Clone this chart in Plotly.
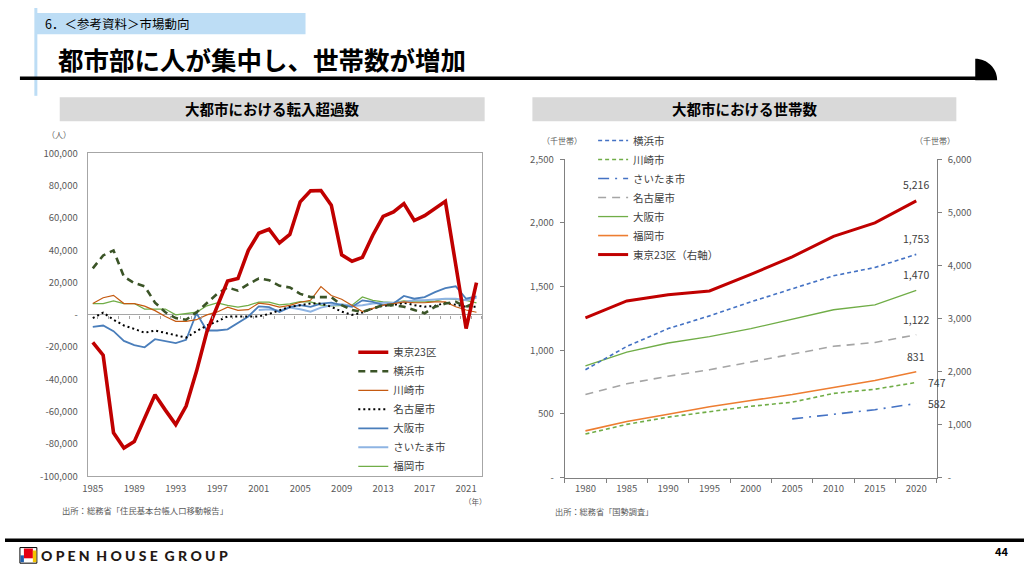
import plotly.graph_objects as go

# ---------------- data ----------------
years_net = list(range(1985, 2023))
tokyo_net = [-17000, -25000, -73000, -82500, -78500, -64000, -49500, -59000, -68000, -56500,
             -35000, -10500, 5500, 21000, 22500, 40000, 50500, 53000, 44500, 49800,
             70000, 76800, 77000, 67900, 37200, 33200, 35600, 49300, 61000, 63800,
             68900, 58400, 61400, 66000, 70300, 31000, -8500, 20000]
yokohama_net = [28800, 36800, 39900, 23700, 19700, 17700, 7600, 1600, -2000, -3000,
                1500, 7000, 13000, 17000, 15000, 19000, 22500, 21500, 18000, 17000,
                13000, 11000, 11000, 11000, 6000, 3000, 1800, 4000, 6000, 6000,
                5000, 3000, 1000, 5000, 7000, 8000, 5000, 8000]
kawasaki_net = [7000, 10600, 12100, 7000, 7000, 5400, 2600, -1000, -4000, -4000,
                -3000, 0, 1800, 4800, 2800, 3200, 7200, 6500, 4800, 5900,
                7800, 9000, 17500, 12000, 9700, 6000, 2000, 4000, 6000, 7000,
                8000, 7500, 7500, 8000, 8000, 5000, 3000, 1600]
nagoya_net = [-2000, 1400, -3000, -6600, -8700, -11100, -9700, -11100, -12700, -14100,
              -10100, -6600, -4000, -1000, -1000, -1000, -1000, 600, 3000, 5000,
              6000, 7000, 7000, 5000, 2000, 0, 1400, 4000, 5600, 6000,
              7500, 6000, 5000, 5600, 7400, 6000, 5000, 5000]
osaka_net = [-7400, -6600, -10100, -16100, -18700, -20100, -15100, -16100, -17500, -15500,
             1000, -9700, -9700, -9000, -5200, -1000, 5200, 4800, 1800, 4800,
             6000, 5000, 7000, 7600, 6000, 5000, 9000, 8000, 6000, 7000,
             11700, 10000, 11000, 14100, 16500, 17700, 10000, 11500]
saitama_net = [None] * 16 + [3000, 3500, 2500, 4500,
               3500, 2000, 4500, 6000, 6500, 5500, 6000, 7000, 7500, 7500,
               8000, 9000, 9000, 9500, 10000, 10000, 9000, 10500]
fukuoka_net = [7000, 7000, 8600, 7000, 7000, 3600, 3600, 3600, 0, 600,
               1600, 5600, 7400, 5900, 4800, 5900, 7900, 7900, 6200, 6800,
               8200, 8000, 6000, 5600, 6000, 6000, 11100, 9000, 8000, 7500,
               8600, 8000, 8000, 8500, 10000, 9600, 9000, 7400]
net_ticks = list(range(-100000, 100001, 20000))
net_ticktext = ["-" if v == 0 else f"{v:,}" for v in net_ticks]
net_xticks = list(range(1985, 2022, 4))

years_hh = ["1980", "1985", "1990", "1995", "2000", "2005", "2010", "2015", "2020"]
yokohama_hh = [847, 1030, 1170, 1270, 1380, 1485, 1585, 1650, 1753]
kawasaki_hh = [342, 418, 475, 520, 560, 592, 661, 694, 747]
saitama_hh = [None, None, None, None, None, 461, 500, 533, 582]
nagoya_hh = [653, 737, 796, 847, 908, 967, 1031, 1061, 1122]
osaka_hh = [877, 985, 1057, 1107, 1170, 1245, 1318, 1357, 1470]
fukuoka_hh = [367, 440, 498, 556, 605, 652, 707, 763, 831]
tokyo_hh = [3010, 3330, 3445, 3517, 3830, 4160, 4546, 4802, 5216]
hh_ticks_l = [0, 500, 1000, 1500, 2000, 2500]
hh_ticks_r = [0, 1000, 2000, 3000, 4000, 5000, 6000]

# ---------------- helpers ----------------
W, H = 1024, 576
def px(x):
    return x / W
def py(y):
    return 1 - y / H

FONT = "Noto Sans CJK JP, Noto Sans, sans-serif"
AX = "#A6A6A6"
TXT = "#595959"

fig = go.Figure()

# ---------------- left chart ----------------
left_series = [
    ("東京23区", tokyo_net, dict(color="#C00000", width=3.6)),
    ("横浜市", yokohama_net, dict(color="#3B5427", width=2.6, dash="7px,5px")),
    ("川崎市", kawasaki_net, dict(color="#C55A11", width=1.2)),
    ("名古屋市", nagoya_net, dict(color="#000000", width=2, dash="2px,3px")),
    ("大阪市", osaka_net, dict(color="#4A7EBB", width=1.8)),
    ("さいたま市", saitama_net, dict(color="#8EB4E3", width=2)),
    ("福岡市", fukuoka_net, dict(color="#70AD47", width=1.3)),
]
for name, vals, line in reversed(left_series):
    fig.add_trace(go.Scatter(x=years_net, y=vals, name=name, mode="lines", line=line,
                             xaxis="x", yaxis="y", legend="legend", hoverinfo="skip",
                             connectgaps=False))
# carrier for the tick marks along the zero line
fig.add_trace(go.Scatter(x=[years_net[0]], y=[0], mode="markers", marker=dict(opacity=0),
                         xaxis="x3", yaxis="y", showlegend=False, hoverinfo="skip"))

# ---------------- right chart ----------------
# (name, values, line, y-axis, label xshift, label yshift, label anchor)
right_series = [
    ("横浜市", yokohama_hh, dict(color="#4472C4", width=1.6, dash="4px,3px"), "y2", 0, 15.5, "center"),
    ("川崎市", kawasaki_hh, dict(color="#70AD47", width=1.6, dash="4px,3px"), "y2", 10, 0, "left"),
    ("さいたま市", saitama_hh, dict(color="#4472C4", width=1.6, dash="11px,6px,2px,6px"), "y2", 10, 0, "left"),
    ("名古屋市", nagoya_hh, dict(color="#A5A5A5", width=1.6, dash="8px,6px"), "y2", 0, 15, "center"),
    ("大阪市", osaka_hh, dict(color="#70AD47", width=1.3), "y2", 0, 16, "center"),
    ("福岡市", fukuoka_hh, dict(color="#ED7D31", width=1.6), "y2", 0, 15, "center"),
    ("東京23区（右軸）", tokyo_hh, dict(color="#C00000", width=3), "y3", 0, 16.5, "center"),
]
last_idx = len(years_hh) - 1
label_anns = []
for name, vals, line, yax, xs, ys, xa in reversed(right_series):
    fig.add_trace(go.Scatter(x=years_hh, y=vals, name=name, mode="lines", line=line,
                             xaxis="x2", yaxis=yax, legend="legend2", hoverinfo="skip"))
    label_anns.append(dict(xref="x2", yref=yax, x=last_idx, y=vals[-1],
                           text=f"{vals[-1]:,}", showarrow=False, xanchor=xa, yanchor="middle",
                           xshift=xs, yshift=ys,
                           font=dict(size=10.5, color="#404040", family=FONT)))

# ---------------- layout ----------------
tickfont = dict(size=9.5, color=TXT, family=FONT)
ymid = (py(480) + py(149)) / 2

fig.update_layout(
    width=W, height=H, autosize=False,
    margin=dict(l=0, r=0, t=0, b=0),
    paper_bgcolor="white", plot_bgcolor="white",
    font=dict(family=FONT, color="#404040"),
    showlegend=True,
    xaxis=dict(domain=[px(83), px(479)], range=[1984.5, 2022.5], tickvals=net_xticks,
               ticks="", showline=True, linecolor=AX, linewidth=1, mirror=True,
               showgrid=False, zeroline=False, tickfont=tickfont, anchor="y",
               ticklabelstandoff=3),
    yaxis=dict(domain=[py(480), py(149)], range=[-100000, 100000], tickvals=net_ticks,
               ticktext=net_ticktext, ticks="", showline=True, linecolor=AX, linewidth=1,
               mirror=True, showgrid=False, zeroline=True, zerolinecolor=AX,
               zerolinewidth=1, tickfont=tickfont, anchor="x", ticklabelstandoff=7),
    xaxis3=dict(overlaying="x", anchor="free", position=ymid, range=[1984.5, 2022.5],
                tickvals=[v + 0.5 for v in range(1984, 2023)], ticks="outside", ticklen=3,
                tickcolor=AX, showticklabels=False, showline=False, showgrid=False,
                zeroline=False, side="bottom"),
    xaxis2=dict(domain=[px(562.5), px(936.5)], type="category", tickson="boundaries",
                range=[-0.5, len(years_hh) - 0.5],
                ticks="outside", ticklen=4, tickcolor="#808080", showline=True,
                linecolor="#808080", showgrid=False, zeroline=False, tickfont=tickfont,
                anchor="y2", ticklabelstandoff=2),
    yaxis2=dict(domain=[py(481.3), py(155)], range=[0, 2500], tickvals=hh_ticks_l,
                ticktext=["-" if v == 0 else f"{v:,}" for v in hh_ticks_l],
                ticks="outside", ticklen=4, tickcolor="#808080", showline=True,
                linecolor="#808080", showgrid=False, zeroline=False, tickfont=tickfont,
                anchor="x2", ticklabelstandoff=4),
    yaxis3=dict(overlaying="y2", side="right", anchor="x2", range=[0, 6000],
                tickvals=hh_ticks_r,
                ticktext=["-" if v == 0 else f"{v:,}" for v in hh_ticks_r],
                ticks="outside", ticklen=4, tickcolor="#808080", showline=True,
                linecolor="#808080", showgrid=False, zeroline=False, tickfont=tickfont,
                ticklabelstandoff=4),
    legend=dict(x=px(350), y=py(338), xanchor="left", yanchor="top",
                bgcolor="rgba(0,0,0,0)", traceorder="reversed",
                font=dict(size=10.5, color="#404040", family=FONT)),
    legend2=dict(x=px(591), y=py(121), xanchor="left", yanchor="top",
                 bgcolor="rgba(0,0,0,0)", traceorder="reversed",
                 font=dict(size=10.5, color="#404040", family=FONT)),
)

shapes = [
    dict(type="rect", xref="paper", yref="paper", x0=px(31), x1=px(302), y0=py(27), y1=py(5),
         fillcolor="#BDDDF5", line=dict(width=0), layer="below"),
    dict(type="line", xref="paper", yref="paper", x0=px(31), x1=px(31), y0=py(0), y1=py(90),
         line=dict(color="#BDDDF5", width=3)),
    dict(type="line", xref="paper", yref="paper", x0=px(15), x1=px(976), y0=py(72), y1=py(72),
         line=dict(color="black", width=3.5)),
    dict(type="path", xref="paper", yref="paper",
         path=(f"M {px(975)} {py(74)} L {px(975)} {py(52)} "
               f"C {px(975 + 22 * 0.5523)} {py(52)} {px(997)} {py(74 - 22 * 0.5523)} {px(997)} {py(74)} Z"),
         fillcolor="black", line=dict(width=0)),
    dict(type="rect", xref="paper", yref="paper", x0=px(55), x1=px(482), y0=py(116), y1=py(91.5),
         fillcolor="#D9D9D9", line=dict(width=0), layer="below"),
    dict(type="rect", xref="paper", yref="paper", x0=px(530), x1=px(956), y0=py(116), y1=py(91.5),
         fillcolor="#D9D9D9", line=dict(width=0), layer="below"),
    dict(type="line", xref="paper", yref="paper", x0=0, x1=1, y0=py(545.5), y1=py(545.5),
         line=dict(color="black", width=3.5)),
    # logo icon
    dict(type="rect", xref="paper", yref="paper", x0=px(15), x1=px(32), y0=py(569), y1=py(553),
         fillcolor="white", line=dict(color="black", width=1)),
    dict(type="rect", xref="paper", yref="paper", x0=px(19), x1=px(28), y0=py(564), y1=py(554),
         fillcolor="#E60012", line=dict(width=0)),
    dict(type="rect", xref="paper", yref="paper", x0=px(28), x1=px(31.5), y0=py(568), y1=py(556),
         fillcolor="#F5C400", line=dict(width=0)),
    dict(type="rect", xref="paper", yref="paper", x0=px(15.5), x1=px(19), y0=py(568), y1=py(561),
         fillcolor="#1F5FAD", line=dict(width=0)),
]

def ann(x, y, text, size, color="#404040", xanchor="left", bold=False, family=FONT, weight=None):
    font = dict(size=size, color=color, family=family)
    if weight is not None:
        font["weight"] = weight
    return dict(xref="paper", yref="paper", x=px(x), y=py(y), text=(f"<b>{text}</b>" if bold else text),
                showarrow=False, xanchor=xanchor, yanchor="middle", font=font)

annotations = label_anns + [
    ann(38, 16, "6．＜参考資料＞市場動向", 12.5, "#000000"),
    ann(51, 51.5, "都市部に人が集中し、世帯数が増加", 25.5, "#000000", bold=True),
    ann(268.5, 103.5, "大都市における転入超過数", 14.5, "#000000", xanchor="center", bold=True),
    ann(743, 103.5, "大都市における世帯数", 14.5, "#000000", xanchor="center", bold=True),
    ann(54, 130, "（人）", 8, TXT, xanchor="center"),
    ann(473, 505.5, "（年）", 7.5, TXT, xanchor="center"),
    ann(560, 135.5, "（千世帯）", 8, TXT, xanchor="center"),
    ann(935, 135.5, "（千世帯）", 8, TXT, xanchor="center"),
    ann(55.5, 514, "出所：総務省「住民基本台帳人口移動報告」", 8.3, TXT),
    ann(551, 516, "出所：総務省「国勢調査」", 8.2, TXT),
    ann(34, 561.5, "O P E N  H O U S E  G R O U P", 14, "#231815",
        family="Lato, Roboto, sans-serif", weight=900),
    ann(1001, 557, "44", 11, "#000000", xanchor="center", bold=True),
]

fig.update_layout(shapes=shapes, annotations=annotations)
fig.write_html("out.html", config={"displayModeBar": False},
               post_script="document.body.style.margin='0px';")
